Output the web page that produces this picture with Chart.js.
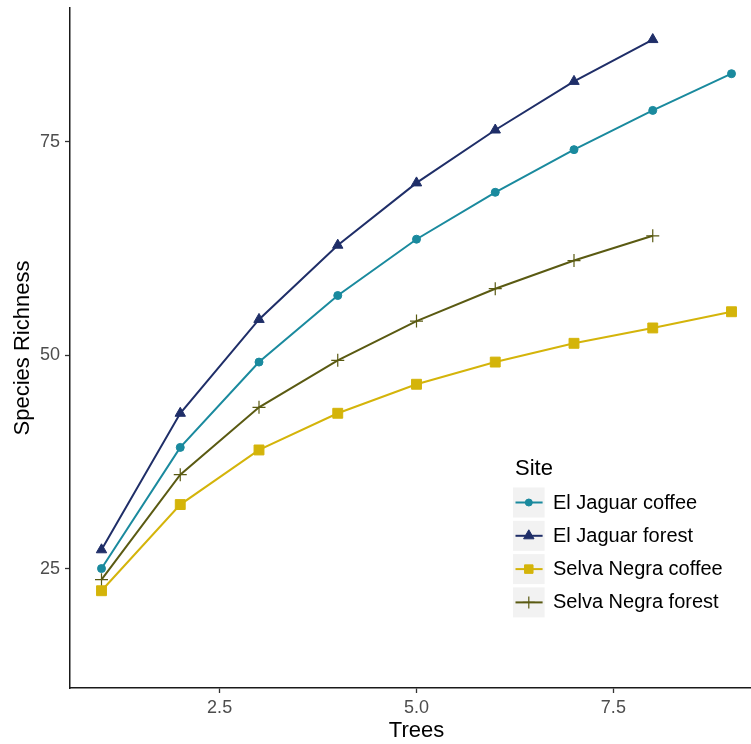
<!DOCTYPE html>
<html>
<head>
<meta charset="utf-8">
<title>Species Richness by Trees</title>
<script src="https://cdn.jsdelivr.net/npm/chart.js@4/dist/chart.umd.min.js"></script>
<style>
  html, body { margin: 0; padding: 0; background: #ffffff; overflow: hidden; }
  #wrap { width: 763px; height: 744px; }
  canvas { display: block; }
</style>
</head>
<body>
<div id="wrap"><canvas id="chart" width="763" height="744"></canvas></div>
<script>
// Number of trees sampled
const trees = [1, 2, 3, 4, 5, 6, 7, 8, 9];

// Accumulated species richness per site
const jaguarCoffee = [25.0, 39.2, 49.2, 57.0, 63.6, 69.1, 74.1, 78.7, 83.0];
const jaguarForest = [27.2, 43.2, 54.2, 62.9, 70.2, 76.4, 82.1, 87.0];
const selvaCoffee  = [22.4, 32.5, 38.9, 43.2, 46.6, 49.2, 51.4, 53.2, 55.1];
const selvaForest  = [23.7, 36.0, 43.9, 49.4, 54.0, 57.8, 61.1, 64.0];

const siteNames = ["El Jaguar coffee", "El Jaguar forest", "Selva Negra coffee", "Selva Negra forest"];

// Axis ticks
const xTicks = [2.5, 5.0, 7.5];
const yTicks = [25, 50, 75];

const FONT = '"Liberation Sans", Arial, sans-serif';

function toPoints(values) {
  return values.map((v, i) => ({ x: trees[i], y: v }));
}

const series = [
  { label: siteNames[0], values: jaguarCoffee, color: '#1a8a9e', style: 'circle',   radius: 4,   bw: 1 },
  { label: siteNames[1], values: jaguarForest, color: '#1f2e68', style: 'triangle', radius: 6,   bw: 1 },
  { label: siteNames[2], values: selvaCoffee,  color: '#d4b40a', style: 'rect',     radius: 7,   bw: 1 },
  { label: siteNames[3], values: selvaForest,  color: '#5a5a12', style: 'cross',    radius: 6.5, bw: 1.2 }
];

const datasets = series.map(s => ({
  label: s.label,
  data: toPoints(s.values),
  borderColor: s.color,
  backgroundColor: s.color,
  borderWidth: 2,
  pointStyle: s.style,
  pointRadius: s.radius,
  pointBorderWidth: s.bw,
  pointBackgroundColor: s.color,
  pointBorderColor: s.color,
  tension: 0,
  fill: false
}));

// Legend drawn inside the panel: "Site" title with grey key boxes
const siteLegend = {
  id: 'siteLegend',
  afterDraw(chart) {
    const ctx = chart.ctx;
    ctx.save();
    ctx.fillStyle = '#000000';
    ctx.font = '22px ' + FONT;
    ctx.textAlign = 'left';
    ctx.textBaseline = 'alphabetic';
    ctx.fillText('Site', 515, 475);

    series.forEach((s, i) => {
      const boxX = 513, boxY = 487.5 + i * 33.3, boxW = 31.6, boxH = 30;
      ctx.fillStyle = '#f2f2f2';
      ctx.fillRect(boxX, boxY, boxW, boxH);
      const cy = boxY + boxH / 2;
      ctx.strokeStyle = s.color;
      ctx.lineWidth = 2;
      ctx.beginPath();
      ctx.moveTo(boxX + 2.5, cy);
      ctx.lineTo(boxX + boxW - 2, cy);
      ctx.stroke();
      ctx.fillStyle = s.color;
      ctx.strokeStyle = s.color;
      ctx.lineWidth = s.bw;
      const r = s.style === 'rect' ? 6 : (s.style === 'circle' ? 3.5 : 6);
      Chart.helpers.drawPoint(ctx, { pointStyle: s.style, radius: r, borderWidth: s.bw, rotation: 0 }, boxX + boxW / 2, cy);
      ctx.fillStyle = '#000000';
      ctx.font = '20px ' + FONT;
      ctx.textBaseline = 'middle';
      ctx.fillText(s.label, 553, cy + 0.5);
    });
    ctx.restore();
  }
};

const whiteBg = {
  id: 'whiteBg',
  beforeDraw(chart) {
    const ctx = chart.ctx;
    ctx.save();
    ctx.fillStyle = '#ffffff';
    ctx.fillRect(0, 0, chart.width, chart.height);
    ctx.restore();
  }
};

function noEdgePadding(scale) {
  scale.paddingTop = 0;
  scale.paddingBottom = 0;
  scale.paddingLeft = 0;
  scale.paddingRight = 0;
}

new Chart(document.getElementById('chart'), {
  type: 'line',
  data: { datasets },
  plugins: [whiteBg, siteLegend],
  options: {
    responsive: false,
    animation: false,
    devicePixelRatio: 1,
    layout: { autoPadding: false, padding: { left: 0, right: 0, top: 8, bottom: 0 } },
    plugins: {
      legend: { display: false },
      tooltip: { enabled: false },
      title: { display: false }
    },
    scales: {
      x: {
        type: 'linear',
        min: 0.6,
        max: 9.4,
        afterBuildTicks(scale) { scale.ticks = xTicks.map(v => ({ value: v })); },
        afterFit(scale) { scale.height = 56; noEdgePadding(scale); },
        ticks: {
          callback: v => Number(v).toFixed(1),
          color: '#4d4d4d',
          font: { family: FONT, size: 18 },
          padding: 4,
          maxRotation: 0,
          autoSkip: false
        },
        grid: { drawOnChartArea: false, drawTicks: true, tickLength: 5, tickColor: '#333333', tickWidth: 1.3 },
        border: { display: true, color: '#1a1a1a', width: 1.5 },
        title: { display: true, text: 'Trees', color: '#000000', font: { family: FONT, size: 22 }, padding: { top: 0, bottom: 0 } }
      },
      y: {
        type: 'linear',
        min: 11,
        max: 90.7,
        afterBuildTicks(scale) { scale.ticks = yTicks.map(v => ({ value: v })); },
        afterFit(scale) { scale.width = 70; noEdgePadding(scale); },
        ticks: {
          callback: v => String(v),
          color: '#4d4d4d',
          font: { family: FONT, size: 18 },
          padding: 5,
          autoSkip: false
        },
        grid: { drawOnChartArea: false, drawTicks: true, tickLength: 5, tickColor: '#333333', tickWidth: 1.3 },
        border: { display: true, color: '#1a1a1a', width: 1.5 },
        title: { display: true, text: 'Species Richness', color: '#000000', font: { family: FONT, size: 22 }, padding: { top: 10, bottom: 0 } }
      }
    }
  }
});
</script>
</body>
</html>
